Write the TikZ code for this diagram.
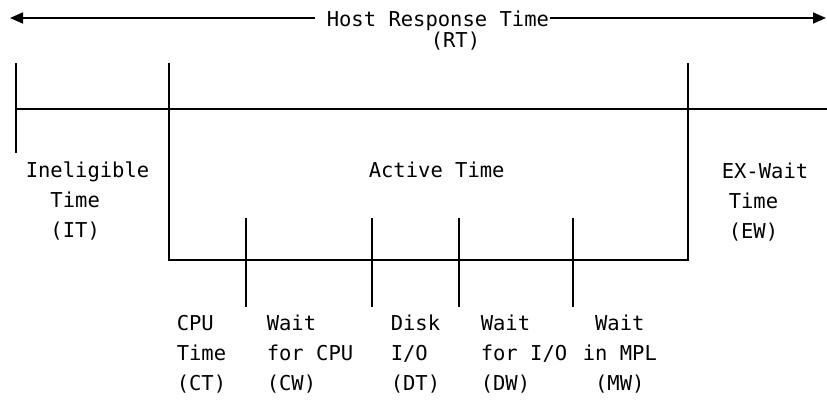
\documentclass[tikz,border=0pt]{standalone}
\usepackage{fontspec}
\setmonofont{DejaVu Sans Mono}
\usetikzlibrary{arrows.meta}

\begin{document}
\begin{tikzpicture}[x=1pt, y=-1pt, line width=1.6pt,
  txt/.style={font=\ttfamily\fontsize{20.5}{30}\selectfont, inner sep=0pt},
  block/.style={txt, align=left, anchor=north west},
  span/.style={-{Triangle[length=13pt, width=11pt]}}]

  % page area
  \fill[white] (0,0) rectangle (827,400);
  \useasboundingbox (0,0) rectangle (827,400);

  % ends of the response-time span
  \coordinate (lt) at (10,18);
  \coordinate (rtend) at (826,18);

  % title of the span
  \node[txt, anchor=base west] (rt) at (326,26) {Host Response Time};
  \node[txt, anchor=base west] (rtab) at (430,47) {(RT)};
  \draw[span] (rt.west |- lt) ++(-11,0) -- (lt);
  \draw[span] (rt.east |- lt) -- (rtend);

  % time line and phase boundaries
  \coordinate (a0) at (16,63);
  \coordinate (a1) at (169,63);
  \coordinate (a2) at (688,63);
  \draw (16,109) -- (827,109);
  \draw (a0) -- (16,153);
  \draw (a1) -- (169,260) -- (688,260) -- (a2);

  % sub-phases of active time
  \foreach \x in {246,372,459,573}
    \draw (\x,218) -- (\x,307);

  % phase labels
  \node[block] (it) at (25,156) {\strut Ineligible\\\phantom{II}Time\\\phantom{II}(IT)};
  \node[txt, anchor=base west] (act) at (368,177) {Active Time};
  \node[block] (ew) at (721,157) {\strut EX-Wait\\\hspace{7pt}Time\\\hspace{7pt}(EW)};

  \node[block] (ct) at (176,309) {\strut CPU\\Time\\(CT)};
  \node[block] (cw) at (266,309) {\strut Wait\\for CPU\\(CW)};
  \node[block] (dt) at (390,309) {\strut Disk\\I/O\\(DT)};
  \node[block] (dw) at (480,309) {\strut Wait\\for I/O\\(DW)};
  \node[block] (mw) at (582,309) {\strut\phantom{i}Wait\\in MPL\\\phantom{i}(MW)};
\end{tikzpicture}
\end{document}
